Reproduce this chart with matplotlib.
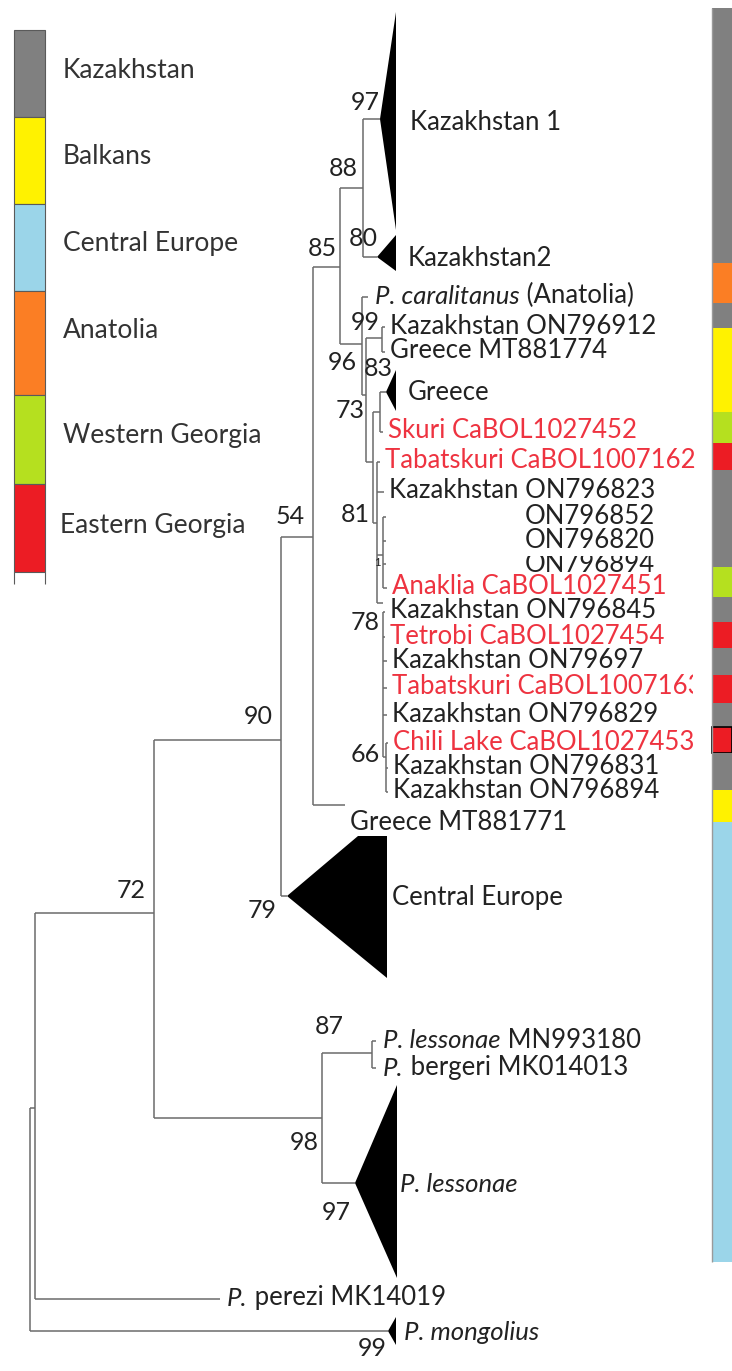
import matplotlib
matplotlib.use('Agg')
import matplotlib.pyplot as plt
from matplotlib.patches import Rectangle
from collections import defaultdict

plt.rcParams['font.family'] = ['Lato', 'DejaVu Sans']

# ---------------- data ----------------
legend_regions = ['Kazakhstan', 'Balkans', 'Central Europe', 'Anatolia',
                  'Western Georgia', 'Eastern Georgia']
legend_colors = ['#808080', '#fff200', '#9bd5e9', '#fb7e24', '#b5e01f', '#ec1c24']
legend_heights = [87, 87, 87, 104, 89, 88]

strip_regions = ['Kazakhstan', 'Anatolia', 'Kazakhstan', 'Balkans', 'Western Georgia',
                 'Eastern Georgia', 'Kazakhstan', 'Western Georgia', 'Kazakhstan',
                 'Eastern Georgia', 'Kazakhstan', 'Eastern Georgia', 'Kazakhstan',
                 'Eastern Georgia', 'Kazakhstan', 'Balkans', 'Central Europe']
strip_heights = [255, 40, 25, 84, 31, 27, 97, 30, 25, 26, 27, 28, 24, 26, 37, 32, 440]

# internal nodes of the tree (depth = horizontal position, row = vertical position)
node_ids = ['root', 'A', 'n72', 'n90', 'n54', 'n85', 'n88', 'n96', 'n73', 'n99',
            'nX', 'n83', 'n81', 'nK', 'n78', 'n66', 'n98', 'n87']
node_parent = [None, 'root', 'A', 'n72', 'n90', 'n54', 'n85', 'n85', 'n96', 'n73',
               'n73', 'nX', 'nX', 'n81', 'n81', 'n78', 'n72', 'n98']
node_depth = [30, 35, 154, 281, 313, 340, 363, 362, 366, 382,
              373, 380, 377, 383, 383, 386, 322, 372]
node_row = [1220, 1108, 913, 740, 537, 267, 188, 344, 395, 338,
            462, 412, 523, 555, 603, 757, 1118, 1053]

# collapsed clades
clade_names = ['Kazakhstan 1', 'Kazakhstan2', 'Greece', 'Central Europe',
               'P. lessonae', 'P. mongolius']
clade_parent = ['n88', 'n88', 'n83', 'n90', 'n98', 'root']
clade_depth = [380, 377, 386, 287, 355, 388]
clade_row = [119, 257, 392, 896, 1183, 1331]
clade_far = [396, 396, 396, 387, 397, 396]
clade_top = [12, 235, 370, 836, 1085, 1317]
clade_bottom = [230, 271, 411, 978, 1278, 1345]
clade_shoulder = [396, 396, 396, 358, 397, 396]
clade_italic = [False, False, False, False, True, True]

# tips
tip_labels = ['P. caralitanus (Anatolia)', 'Kazakhstan ON796912', 'Greece MT881774',
              'Skuri CaBOL1027452', 'Tabatskuri CaBOL1007162', 'Kazakhstan ON796823',
              'ON796852', 'ON796820', 'ON796894', 'Anaklia CaBOL1027451',
              'Kazakhstan ON796845', 'Tetrobi CaBOL1027454', 'Kazakhstan ON79697',
              'Tabatskuri CaBOL1007163', 'Kazakhstan ON796829', 'Chili Lake CaBOL1027453',
              'Kazakhstan ON796831', 'Kazakhstan ON796894', 'Greece MT881771',
              'P. lessonae MN993180', 'P. bergeri MK014013', 'P. perezi MK14019']
tip_italic = ['P. caralitanus', '', '', '', '', '', '', '', '', '', '', '', '', '', '',
              '', '', '', '', 'P. lessonae', 'P.', 'P.']
tip_parent = ['n96', 'n99', 'n99', 'n83', 'n81', 'n81', 'nK', 'nK', 'nK', 'nK',
              'n78', 'n78', 'n78', 'n78', 'n78', 'n66', 'n66', 'n66', 'n54',
              'n87', 'n87', 'A']
tip_depth = [368, 385, 385, 383, 380, 384, 386, 386, 386, 387,
             385, 385, 387, 387, 387, 388, 388, 388, 345, 376, 376, 220]
tip_row = [297, 327, 352, 432, 462, 492, 517, 541, 564, 588,
           612, 637, 661, 688, 715, 743, 768, 792, 805, 1041, 1068, 1299]
tip_georgian = [False, False, False, True, True, False, False, False, False, True,
                False, True, False, True, False, True, False, False, False,
                False, False, False]

support_values = [97, 88, 85, 80, 99, 96, 83, 73, 81, 1, 78, 66, 54, 90, 79, 72,
                  87, 98, 97, 99]

# ---------------- figure ----------------
W, H = 732, 1371
fig = plt.figure(figsize=(W / 100, H / 100), dpi=100)
ax = fig.add_axes([0, 0, 1, 1])
ax.set_xlim(0, W)
ax.set_ylim(H, 0)
ax.axis('off')

FS = 18.5
NFS = 18
LINE = '#6b6b6b'
TXT = '#222222'
RED = '#ee3340'
region_color = dict(zip(legend_regions, legend_colors))

# legend colour bar
bottom = 30
for reg, h in zip(legend_regions, legend_heights):
    ax.bar(29.5, h, bottom=bottom, width=31, color=region_color[reg],
           edgecolor='#5a5a5a', linewidth=0.8)
    bottom += h
ax.vlines([14, 45], bottom, bottom + 12, color='#5a5a5a', lw=0.8)
legend_label_rows = [70, 157, 243, 330, 436, 526]
for reg, yy in zip(legend_regions, legend_label_rows):
    ax.text(63 if reg != 'Eastern Georgia' else 60, yy, reg, fontsize=19,
            color='#333333', va='center', ha='left')

# right strip
bottom = 8
for i, (reg, h) in enumerate(zip(strip_regions, strip_heights)):
    ec = 'black' if i == 13 else 'none'
    ax.bar(722, h, bottom=bottom, width=20, color=region_color[reg],
           edgecolor=ec, linewidth=1.2 if i == 13 else 0)
    bottom += h
ax.vlines(712, 8, bottom, color='#9a9a9a', lw=1)

# tree
pos = {n: (x, y) for n, x, y in zip(node_ids, node_depth, node_row)}
child_rows = defaultdict(list)
hs = []
for n, p in zip(node_ids, node_parent):
    if p is None:
        continue
    hs.append((pos[n][1], pos[p][0], pos[n][0]))
    child_rows[p].append(pos[n][1])
for p, d, r in zip(tip_parent, tip_depth, tip_row):
    hs.append((r, pos[p][0], d))
    child_rows[p].append(r)
for p, d, r in zip(clade_parent, clade_depth, clade_row):
    hs.append((r, pos[p][0], d))
    child_rows[p].append(r)
ax.hlines([h[0] for h in hs], [h[1] for h in hs], [h[2] for h in hs],
          color=LINE, lw=1.1)
vx, v0, v1 = [], [], []
for n in node_ids:
    rows = child_rows[n]
    vx.append(pos[n][0]); v0.append(min(rows)); v1.append(max(rows))
ax.vlines(vx, v0, v1, color=LINE, lw=1.1)

# collapsed clades
for name, d, r, far, top, bot, sh in zip(clade_names, clade_depth, clade_row,
                                         clade_far, clade_top, clade_bottom,
                                         clade_shoulder):
    ax.fill([d, sh, far, far], [r, top, top, bot], color='black', lw=0)
clade_label_pos = [(410, 122), (408, 258), (408, 393), (392, 897), (400, 1185), (404, 1332)]
for name, (lx, ly), it in zip(clade_names, clade_label_pos, clade_italic):
    ax.text(lx, ly, name, fontsize=FS, color=TXT, va='center', ha='left',
            style='italic' if it else 'normal')


def rich(x, y, parts, color, va='center', clip=None):
    first = ax.text(x, y, parts[0][0], fontsize=FS, color=color,
                    style=parts[0][1], va=va, ha='left')
    arts = [first]
    prev = first
    for p in parts[1:]:
        prev = ax.annotate(p[0], xy=(1, 0), xycoords=prev, va='bottom', ha='left',
                           fontsize=FS, style=p[1], color=color)
        arts.append(prev)
    if clip is not None:
        for a in arts:
            a.set_clip_on(True)
            a.set_clip_path(Rectangle((clip[0], clip[1]), clip[2], clip[3],
                                      transform=ax.transData))
    return arts


# width of the hidden "Kazakhstan " prefix (1 data unit == 1 pixel here)
renderer = fig.canvas.get_renderer()
probe = ax.text(0, 0, 'Kazakhstan ', fontsize=FS)
prefix_w = probe.get_window_extent(renderer).width
probe.remove()

clips = {'ON796894': (0, 556, 700, 40),
         'Tabatskuri CaBOL1007162': (0, 430, 706, 60),
         'Tabatskuri CaBOL1007163': (0, 660, 693, 60),
         'Kazakhstan ON796894': (0, 770, 700, 31)}
for lab, itp, d, r, geo in zip(tip_labels, tip_italic, tip_depth, tip_row, tip_georgian):
    col = RED if geo else TXT
    clip = clips.get(lab)
    if lab.startswith('ON'):
        rich(389 + prefix_w, r, [(lab, 'normal')], col, clip=clip)
    elif lab == 'Greece MT881771':
        rich(350, r + 17, [(lab, 'normal')], col)
    elif itp:
        rest = lab[len(itp):]
        rich(d + 7, r, [(itp, 'italic'), (rest, 'normal')], col)
    else:
        rich(d + 5, r - 1, [(lab, 'normal')], col, clip=clip)

support_pos = [(365, 103), (343, 168), (322, 248), (363, 238), (365, 323), (342, 362),
               (378, 368), (350, 410), (355, 515), (377, 562), (365, 623), (365, 755),
               (290, 517), (258, 716), (262, 910), (131, 890), (329, 1027), (304, 1143),
               (336, 1213), (372, 1348)]
for v, (sx, sy) in zip(support_values, support_pos):
    ax.text(sx, sy, str(v), fontsize=NFS if v > 1 else 8, color=TXT,
            ha='center', va='center')

fig.savefig('out.png', dpi=100)
